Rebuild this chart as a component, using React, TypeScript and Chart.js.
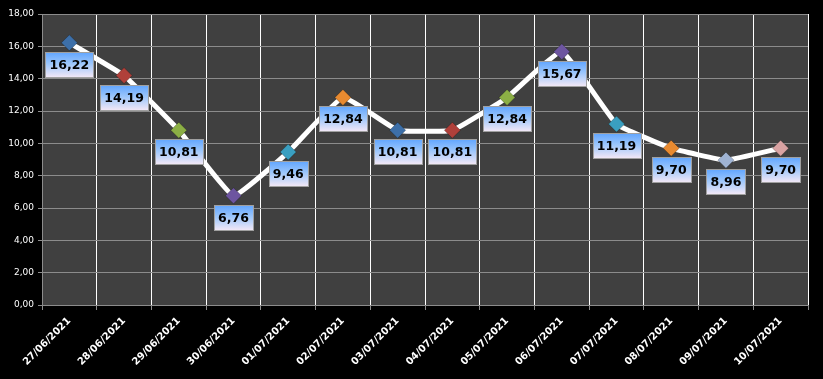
import React, { useEffect, useRef } from "react";
import { Chart, registerables } from "chart.js";

Chart.register(...registerables);

const categories = [
  "27/06/2021", "28/06/2021", "29/06/2021", "30/06/2021", "01/07/2021",
  "02/07/2021", "03/07/2021", "04/07/2021", "05/07/2021", "06/07/2021",
  "07/07/2021", "08/07/2021", "09/07/2021", "10/07/2021",
];
const values = [16.22, 14.19, 10.81, 6.76, 9.46, 12.84, 10.81, 10.81, 12.84, 15.67, 11.19, 9.7, 8.96, 9.7];
const pointColors = [
  "#3d6fa8", "#b0403a", "#8caf45", "#6d55a0", "#3a9fc0", "#e88a30",
  "#3d6fa8", "#b0403a", "#8caf45", "#6d55a0", "#3a9fc0", "#e88a30",
  "#9fb3d3", "#d9a3a3",
];
const yMin = 0;
const yMax = 18;
const yStep = 2;

const fmt = (v: number) => v.toFixed(2).replace(".", ",");

const bgPlugin = {
  id: "bgPlugin",
  beforeDraw(chart: any) {
    const { ctx, chartArea } = chart;
    ctx.save();
    ctx.fillStyle = "#000000";
    ctx.fillRect(0, 0, chart.width, chart.height);
    ctx.fillStyle = "#404040";
    ctx.fillRect(chartArea.left, chartArea.top, chartArea.right - chartArea.left, chartArea.bottom - chartArea.top);
    ctx.restore();
  },
};

const labelPlugin = {
  id: "labelPlugin",
  afterDatasetsDraw(chart: any) {
    const { ctx } = chart;
    const meta = chart.getDatasetMeta(0);
    ctx.save();
    ctx.font = "bold 12.5px 'DejaVu Sans', Verdana, sans-serif";
    ctx.textAlign = "center";
    ctx.textBaseline = "middle";
    meta.data.forEach((pt: any, i: number) => {
      const text = fmt(values[i]);
      const tw = ctx.measureText(text).width;
      const w = Math.round(tw + 8);
      const h = 25;
      const x = Math.round(pt.x - w / 2) + 0.5;
      const y = Math.round(pt.y + 9) + 0.5;
      const g = ctx.createLinearGradient(0, y, 0, y + h);
      g.addColorStop(0, "#62a6ff");
      g.addColorStop(0.45, "#9cc6fb");
      g.addColorStop(1, "#f4e8f6");
      ctx.fillStyle = g;
      ctx.fillRect(x, y, w, h);
      ctx.strokeStyle = "#a0a0a0";
      ctx.lineWidth = 1;
      ctx.strokeRect(x, y, w, h);
      ctx.fillStyle = "#000000";
      ctx.fillText(text, pt.x, y + h / 2 + 1);
    });
    ctx.restore();
  },
};

export default function App() {
  const ref = useRef<HTMLCanvasElement>(null);
  useEffect(() => {
    if (!ref.current) return;
    const chart = new Chart(ref.current, {
      type: "line",
      data: {
        labels: categories,
        datasets: [
          {
            data: values,
            borderColor: "#ffffff",
            borderWidth: 5,
            tension: 0.1,
            pointStyle: "rectRot",
            pointRadius: 8,
            pointBackgroundColor: pointColors,
            pointBorderColor: pointColors.map(() => "rgba(0,0,0,0.25)"),
            pointBorderWidth: 1,
          },
        ],
      },
      options: {
        responsive: false,
        animation: false,
        layout: { padding: { top: 14, right: 15, bottom: 0, left: 0 } },
        plugins: { legend: { display: false }, tooltip: { enabled: false } },
        scales: {
          x: {
            offset: true,
            grid: {
              offset: true,
              color: (c: any) => (c.index === 0 || c.index === categories.length ? "#8c8c8c" : "#ffffff"),
              tickColor: "#8c8c8c",
              tickLength: 5,
              lineWidth: 1,
            },
            border: { color: "#8c8c8c" },
            ticks: {
              color: "#ffffff",
              font: { family: "'DejaVu Sans', sans-serif", size: 10, weight: "bold" },
              minRotation: 45,
              maxRotation: 45,
              autoSkip: false,
              padding: 5,
            },
            afterFit: (s: any) => {
              s.height = 74;
            },
          },
          y: {
            min: yMin,
            max: yMax,
            grid: { color: "#8c8c8c", tickColor: "#8c8c8c", tickLength: 4 },
            border: { color: "#8c8c8c" },
            ticks: {
              stepSize: yStep,
              color: "#ffffff",
              font: { family: "'DejaVu Sans', sans-serif", size: 9 },
              padding: 4,
              callback: (v: any) => fmt(Number(v)),
            },
            afterFit: (s: any) => {
              s.width = 42;
            },
          },
        },
      },
      plugins: [bgPlugin, labelPlugin],
    });
    return () => chart.destroy();
  }, []);
  return (
    <div style={{ position: "fixed", left: 0, top: 0, width: 823, height: 379, background: "#000" }}>
      <canvas ref={ref} width={823} height={379} />
    </div>
  );
}
